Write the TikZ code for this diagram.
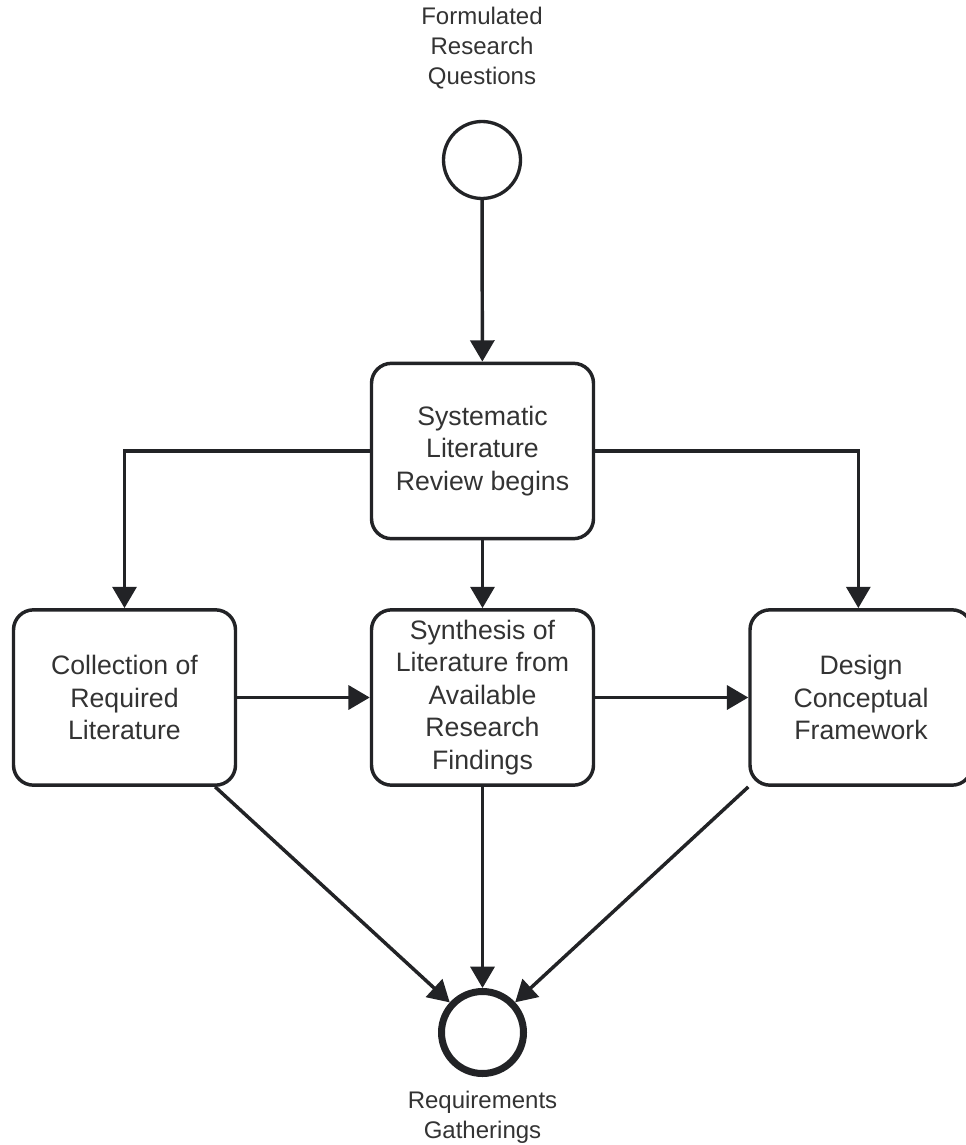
\documentclass[tikz,border=0pt]{standalone}
\usepackage{fontspec}
\setmainfont{Liberation Sans}
\usetikzlibrary{arrows.meta}
\definecolor{ink}{HTML}{222326}
\definecolor{txt}{HTML}{333333}
\begin{document}
\begin{tikzpicture}[x=0.75pt,y=-0.75pt,
  flow/.style={draw=ink, line width=2.6pt, -{Triangle[length=16pt,width=18pt]}},
  task/.style={draw=ink, line width=2.6pt, rounded corners=15pt, fill=white,
    minimum width=166.5pt, minimum height=131.5pt, align=center, text=txt,
    font=\fontsize{20}{24.4}\selectfont, inner sep=0pt},
  startev/.style={draw=ink, circle, line width=2.5pt, minimum size=57.75pt, inner sep=0pt},
  endev/.style={draw=ink, circle, line width=5.25pt, minimum size=61.5pt, inner sep=0pt},
  evlabel/.style={align=center, text=txt, font=\fontsize{18}{22.5}\selectfont, inner sep=0pt}
]
\useasboundingbox (0,0) rectangle (965,1145);

% events
\node[evlabel] (startlbl) at (482,48) {Formulated\\Research\\Questions};
\node[startev] (start) at (482,160) {};
\node[endev] (end) at (482.5,1032.5) {};
\node[evlabel] (endlbl) at (482.5,1117) {Requirements\\Gatherings};

% tasks
\node[task] (slr) at (482.5,451) {Systematic\\Literature\\Review begins};
\node[task] (coll) at (124.5,697.5) {Collection of\\Required\\Literature};
\node[task] (synth) at (482.5,697.5) {Synthesis of\\Literature from\\Available\\Research\\Findings};
\node[task] (design) at (861,697.5) {Design\\Conceptual\\Framework};

% sequence flows
\draw[flow] (start) -- (slr);
\draw[flow] (slr.west) -| (coll.north);
\draw[flow] (slr) -- (synth);
\draw[flow] (slr.east) -| ([xshift=-2pt]design.north);
\draw[flow] (coll) -- (synth);
\draw[flow] (synth) -- (design);
\draw[flow] ([xshift=-16.5pt]coll.south east) -- (end);
\draw[flow] (synth) -- (end);
\draw[flow] (design.south west) -- (end);
\end{tikzpicture}
\end{document}
